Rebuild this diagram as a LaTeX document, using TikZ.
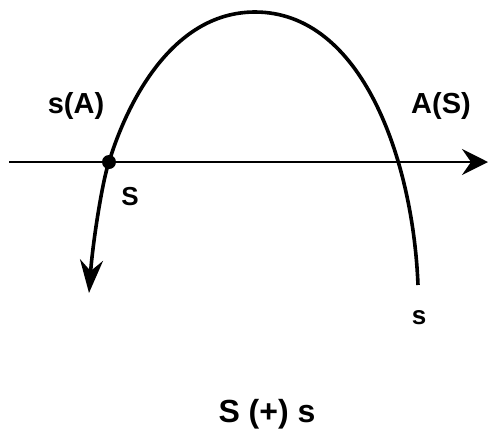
\documentclass[tikz,border=0pt]{standalone}
\usepackage{fontspec}
\setmainfont{Liberation Sans}
\usetikzlibrary{arrows.meta}

\begin{document}
\begin{tikzpicture}[x=1pt, y=-1pt,
  lbl/.style    = {font=\fontsize{29}{33}\selectfont\bfseries, inner sep=0pt},
  smlbl/.style  = {font=\fontsize{26}{30}\selectfont\bfseries, inner sep=0pt},
  biglbl/.style = {font=\fontsize{32}{36}\selectfont\bfseries, inner sep=0pt},
  axis/.style   = {line width=2pt, -{Stealth[length=26pt, width=26pt, inset=9pt]}},
  path/.style   = {line width=3.6pt, -{Stealth[length=33pt, width=23pt, inset=11pt]}},
  dot/.style    = {circle, fill=black, inner sep=0pt, minimum size=14pt},
]
\useasboundingbox (0,0) rectangle (488,432);
% axis
\coordinate (axL) at (9,162);
\coordinate (axR) at (488,162);
\draw[axis] (axL) -- (axR);
% curve
\coordinate (start) at (418,285);
\coordinate (top)   at (255,12);
\coordinate (tip)   at (89,293);
\node[dot] (S) at (109,162) {};
\draw[path] (start) .. controls (413,160) and (362,12) .. (top)
                    .. controls (168,12) and (124,112) .. (S.center)
                    .. controls (103,178) and (93,240) .. (tip);
% labels
\node[lbl]    (sA)  at (76,106)  {s(A)};
\node[lbl]    (AS)  at (441,106) {A(S)};
\node[smlbl]  (Sl)  at (130,197) {S};
\node[smlbl]  (sl)  at (419,318) {s};
\node[biglbl] (sum) at (267,414) {S (+) s};
\end{tikzpicture}
\end{document}
